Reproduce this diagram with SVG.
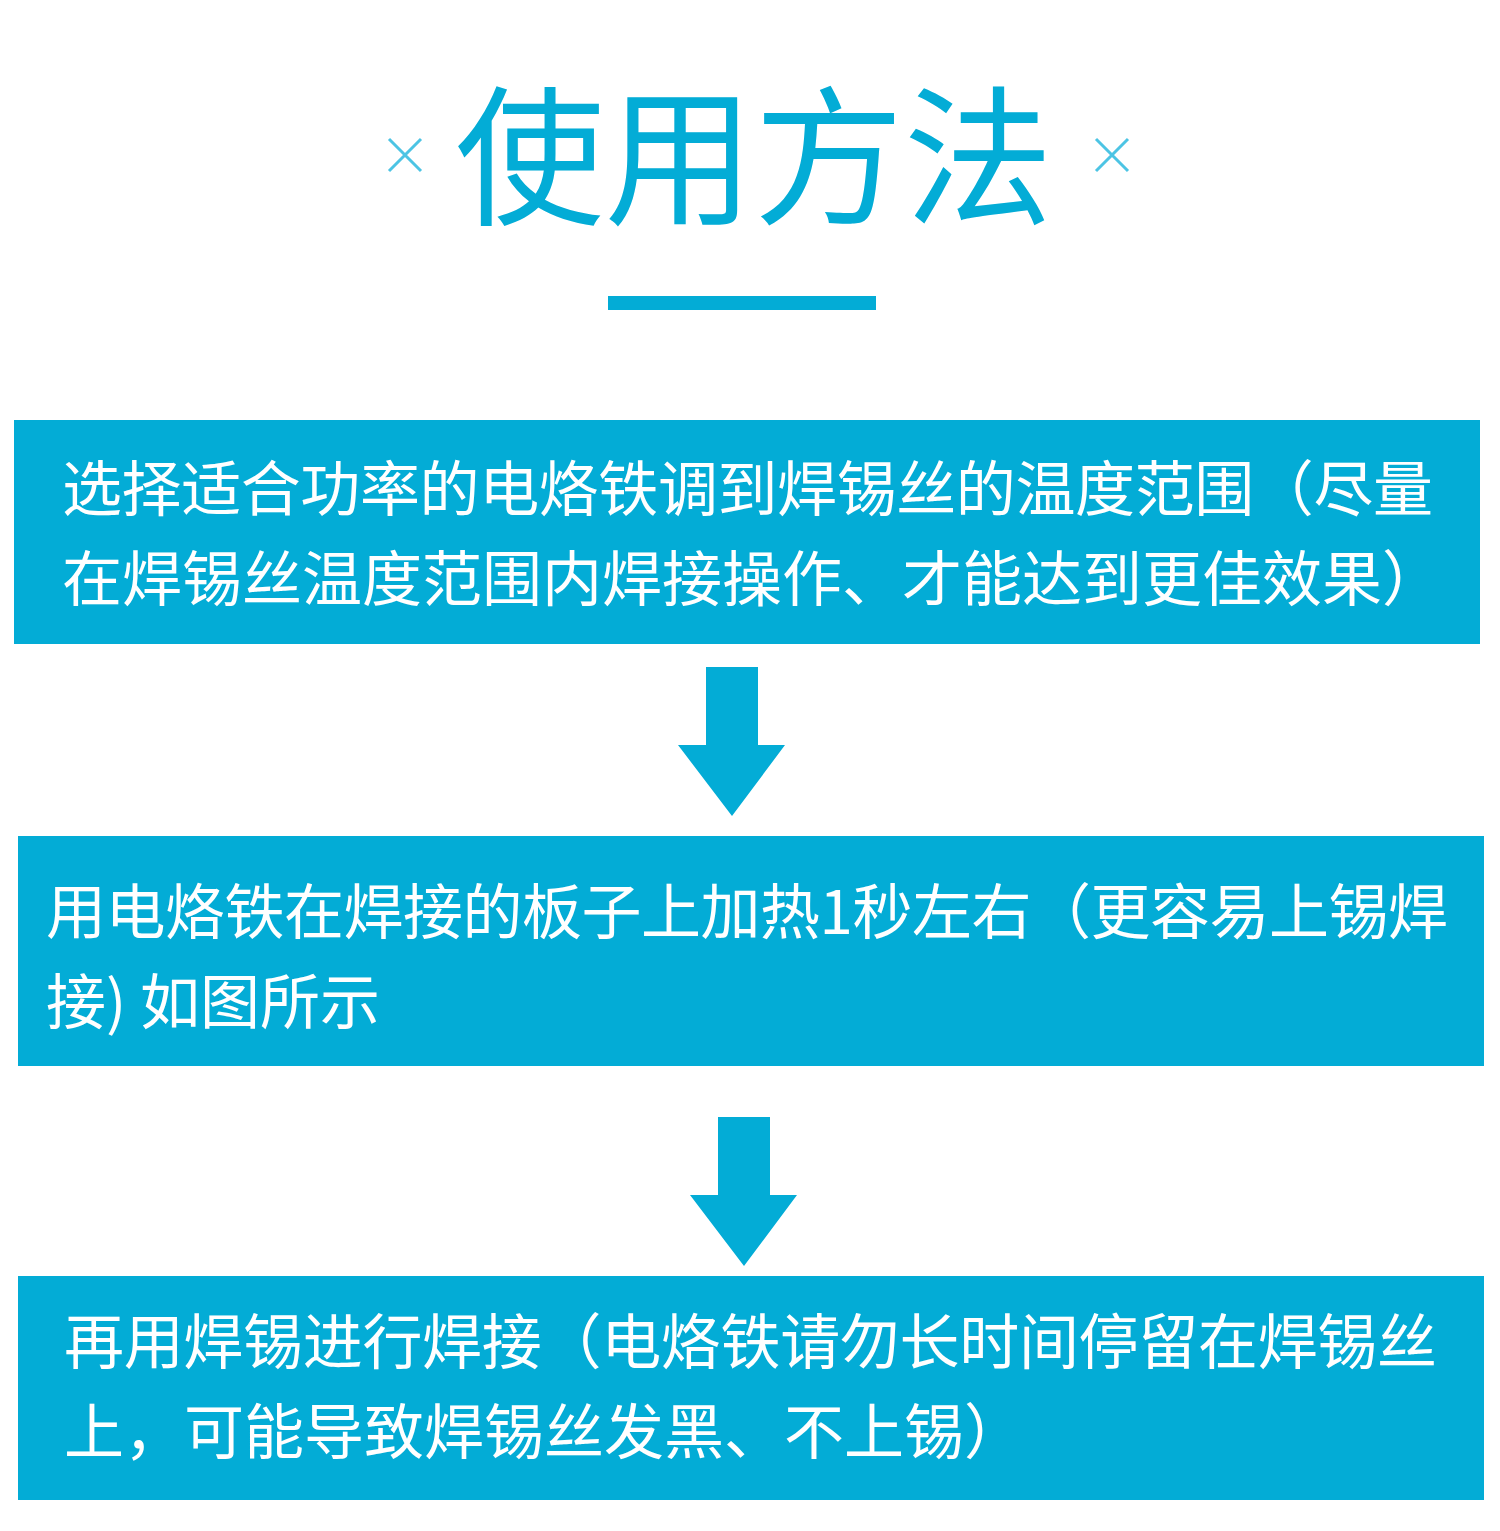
<svg xmlns="http://www.w3.org/2000/svg" width="1500" height="1531" viewBox="0 0 1500 1531">
  <style>
    .box { fill: #03acd6; }
    .arrow { fill: #03acd6; }
    .title { font-family: "Noto Sans CJK SC", "Noto Sans", sans-serif; font-size: 150px; fill: #03acd6; }
    .t { font-family: "Noto Sans CJK SC", "Noto Sans", sans-serif; font-size: 60px; fill: #ffffff; }
    .cross { stroke: #4cc4e4; stroke-width: 3; fill: none; }
  </style>
  <rect width="1500" height="1531" fill="#ffffff"/>

  <g id="header">
    <text class="title" x="455" y="213" textLength="598" lengthAdjust="spacingAndGlyphs">使用方法</text>
    <path class="cross" d="M389 139 L421 171 M421 139 L389 171"/>
    <path class="cross" d="M1096 139 L1128 171 M1128 139 L1096 171"/>
    <rect x="608" y="296" width="268" height="14" fill="#03acd6"/>
  </g>

  <g id="step1">
    <rect class="box" x="14" y="420" width="1466" height="224"/>
    <text class="t" x="62" y="511" textLength="1371" lengthAdjust="spacing">选择适合功率的电烙铁调到焊锡丝的温度范围（尽量</text>
    <text class="t" x="62" y="601">在焊锡丝温度范围内焊接操作、才能达到更佳效果）</text>
  </g>

  <g id="step2">
    <rect class="box" x="18" y="836" width="1466" height="230"/>
    <text class="t" x="46" y="934" textLength="1402" lengthAdjust="spacing">用电烙铁在焊接的板子上加热1秒左右（更容易上锡焊</text>
    <text class="t" y="1024"><tspan x="46">接)</tspan><tspan x="140">如图所示</tspan></text>
  </g>

  <g id="step3">
    <rect class="box" x="18" y="1276" width="1466" height="224"/>
    <text class="t" x="64" y="1364" textLength="1373" lengthAdjust="spacing">再用焊锡进行焊接（电烙铁请勿长时间停留在焊锡丝</text>
    <text class="t" x="64" y="1454">上，可能导致焊锡丝发黑、不上锡）</text>
  </g>

  <g id="connectors">
    <polygon class="arrow" points="706,667 758,667 758,745 785,745 732,816 678,745 706,745"/>
    <polygon class="arrow" points="718,1117 770,1117 770,1195 797,1195 744,1266 690,1195 718,1195"/>
  </g>
</svg>
